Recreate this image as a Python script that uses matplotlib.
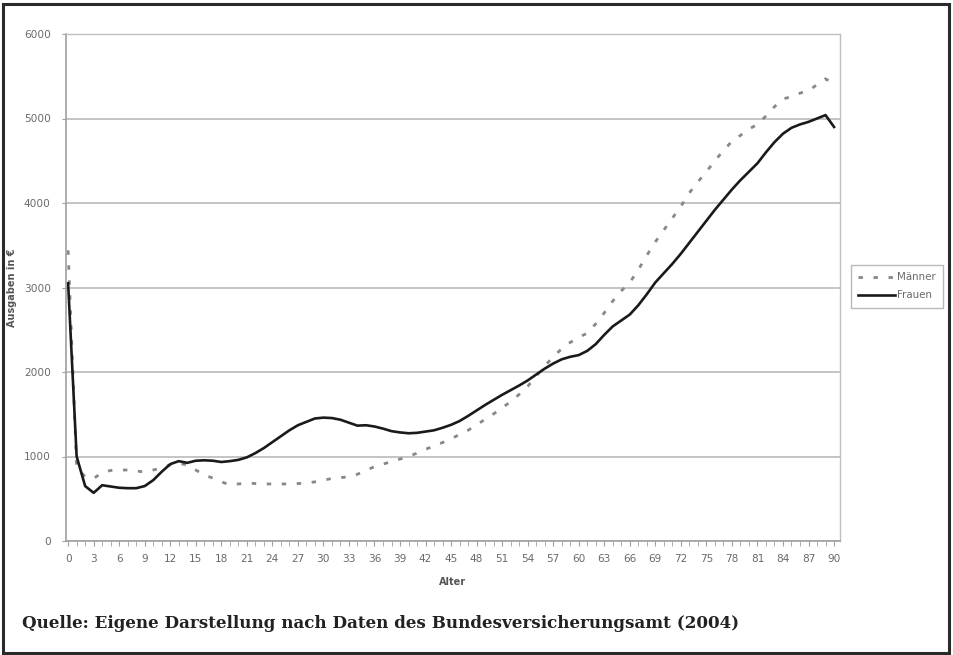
import numpy as np
import matplotlib
matplotlib.use('Agg')
import matplotlib.pyplot as plt
from matplotlib.patches import Rectangle

# Ausgaben je Versicherten nach Alter
alter = list(range(0, 91))
maenner = [3440, 870, 760, 740, 810, 835, 840, 840, 830, 815,
           840, 865, 900, 920, 900, 840, 780, 745, 700, 665,
           675, 685, 680, 675, 675, 675, 675, 680, 685, 700,
           720, 740, 750, 760, 790, 835, 880, 910, 940, 970,
           1000, 1040, 1085, 1125, 1165, 1210, 1260, 1310, 1375, 1440,
           1505, 1575, 1650, 1735, 1830, 1950, 2070, 2180, 2275, 2350,
           2410, 2460, 2570, 2700, 2840, 2960, 3060, 3210, 3380, 3540,
           3680, 3820, 3960, 4120, 4250, 4370, 4500, 4620, 4730, 4800,
           4875, 4930, 5030, 5140, 5230, 5260, 5300, 5330, 5400, 5470,
           5410]
frauen = [3050, 1000, 650, 570, 660, 645, 630, 625, 625, 650,
          720, 820, 910, 945, 925, 950, 955, 950, 935, 945,
          960, 990, 1040, 1100, 1170, 1240, 1310, 1370, 1410, 1450,
          1460, 1455, 1435, 1400, 1365, 1370, 1355, 1330, 1300, 1285,
          1275, 1280, 1295, 1310, 1340, 1375, 1420, 1480, 1545, 1610,
          1670, 1730, 1785, 1840, 1900, 1970, 2040, 2100, 2150, 2180,
          2200, 2250, 2330, 2440, 2540, 2610, 2680, 2790, 2920, 3060,
          3170, 3280, 3400, 3530, 3660, 3790, 3920, 4040, 4160, 4270,
          4370, 4470, 4600, 4720, 4820, 4890, 4930, 4960, 5000, 5040,
          4900]
y_ticks = [0, 1000, 2000, 3000, 4000, 5000, 6000]

W, H = 954, 655
fig = plt.figure(figsize=(W / 100, H / 100), dpi=100)

# outer frame
fig.patches.append(Rectangle((3 / W, 2 / H), 946 / W, 649 / H, transform=fig.transFigure,
                             fill=False, edgecolor='#2a2a2a', linewidth=2.2))

ax = fig.add_axes([66 / W, (H - 541) / H, (840 - 66) / W, (541 - 34) / H])
ax.plot(alter, maenner, color='#888888', linewidth=2.0, dashes=(1.6, 3.8), label='Männer')
ax.plot(alter, frauen, color='#1a1a1a', linewidth=1.9, label='Frauen')

ax.set_xlim(-0.25, 90.7)
ax.set_ylim(0, 6000)
ax.set_yticks(y_ticks)
ax.set_yticklabels([str(v) for v in y_ticks])
ax.set_xticks(alter, minor=True)
ax.set_xticks(alter[::3])
ax.grid(axis='y', color='#b4b4b4', linewidth=1.1)
ax.set_axisbelow(True)

for side in ['top', 'right']:
    ax.spines[side].set_color('#c0c0c0')
    ax.spines[side].set_linewidth(1.0)
for side in ['left', 'bottom']:
    ax.spines[side].set_color('#a0a0a0')
    ax.spines[side].set_linewidth(1.2)

ax.tick_params(axis='x', which='both', direction='out', length=3.5, color='#a0a0a0',
               labelsize=7.6, labelcolor='#6a6a6a', pad=6)
ax.tick_params(axis='x', which='minor', length=3.5)
ax.tick_params(axis='y', direction='out', length=3, color='#a0a0a0',
               labelsize=7.6, labelcolor='#6a6a6a', pad=8)
for lab in ax.get_xticklabels() + ax.get_yticklabels():
    lab.set_family('DejaVu Sans')

ax.set_xlabel('Alter', fontsize=7, fontweight='bold', color='#555555',
              family='DejaVu Sans', labelpad=9)
fig.text(12 / W, (H - 288) / H, 'Ausgaben in €', rotation=90, fontsize=7,
         fontweight='bold', color='#555555', family='DejaVu Sans',
         ha='center', va='center')

leg = ax.legend(loc='upper left', bbox_to_anchor=(851 / W, (H - 265) / H),
                bbox_transform=fig.transFigure, frameon=True, fancybox=False,
                fontsize=7.4, handlelength=3.6, handletextpad=0.2,
                borderpad=0.7, labelspacing=0.8, borderaxespad=0)
leg.get_frame().set_edgecolor('#a8a8a8')
leg.get_frame().set_linewidth(1.0)
for t in leg.get_texts():
    t.set_color('#6a6a6a')
    t.set_family('DejaVu Sans')

fig.text(22 / W, (H - 623) / H,
         'Quelle: Eigene Darstellung nach Daten des Bundesversicherungsamt (2004)',
         fontsize=12.05, fontweight='bold', family='DejaVu Serif', color='#222222',
         va='center', ha='left')

fig.savefig('out.png', dpi=100)
